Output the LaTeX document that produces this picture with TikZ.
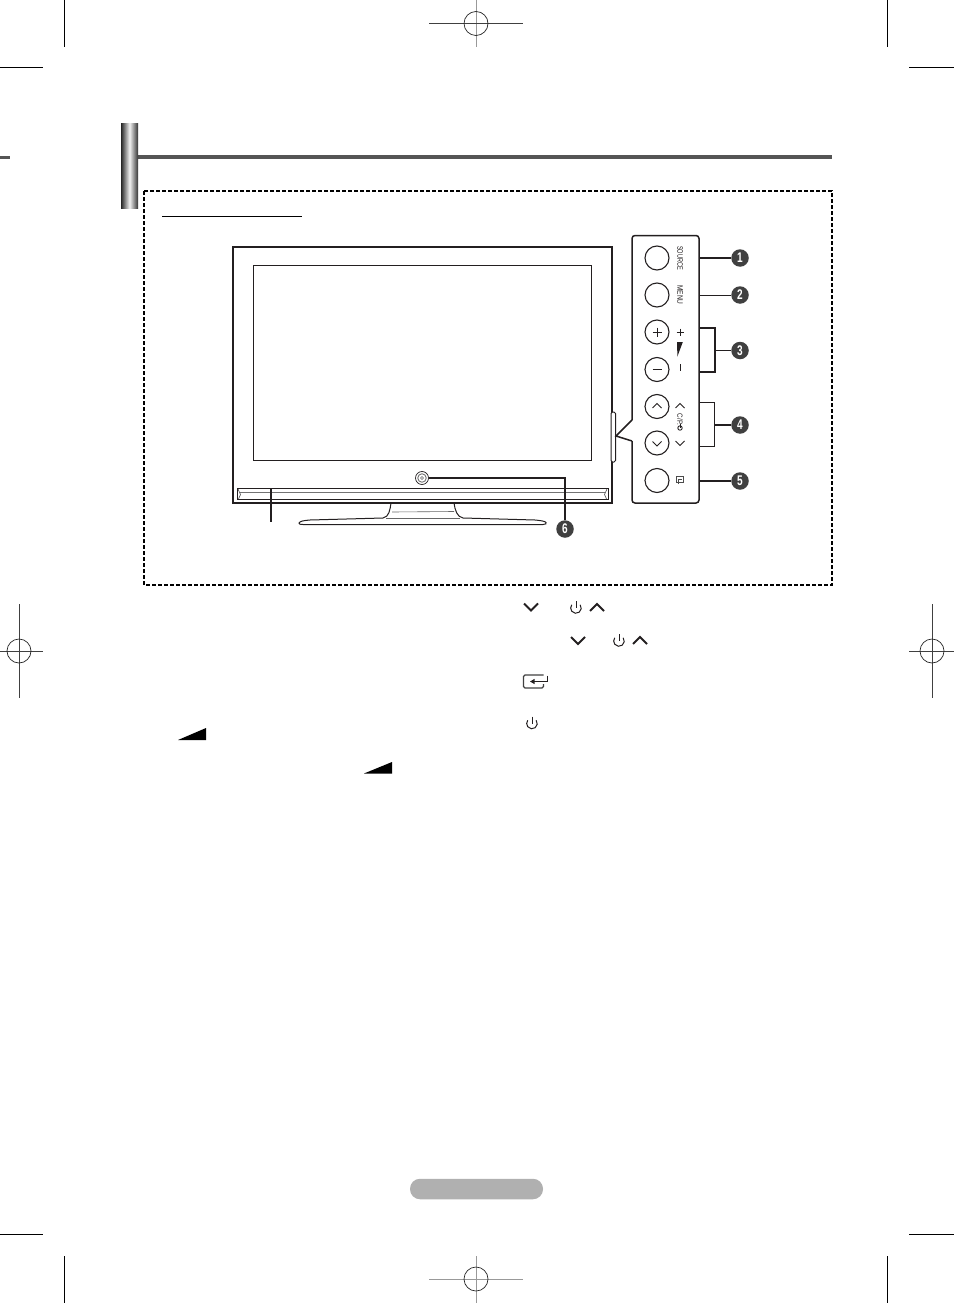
\documentclass[tikz,border=0pt]{standalone}
\usepackage{fontspec}
\setmainfont{Liberation Sans}
\definecolor{barcol}{HTML}{555555}
\definecolor{badgecol}{HTML}{404040}
\definecolor{pillcol}{HTML}{B0B0B0}
\definecolor{inkcol}{HTML}{231F20}
\tikzset{
  crop/.style={line width=1pt,black},
  regdark/.style={line width=.8pt,color=black!75},
  reggray/.style={line width=.9pt,color=black!40},
  regring/.style={circle,draw=black!85,line width=.7pt,minimum size=24pt,inner sep=0pt},
  btn/.style={circle,draw=inkcol,line width=1.1pt,minimum size=24pt,inner sep=0pt},
  badge/.style={circle,fill=badgecol,minimum size=17.5pt,inner sep=0pt,text=white,font=\fontsize{14}{14}\selectfont\bfseries},
  wire/.style={line width=1.5pt,color=inkcol},
  thinwire/.style={line width=1pt,color=inkcol},
  panellabel/.style={rotate=-90,inner sep=0pt,text=inkcol,font=\fontsize{8}{8}\selectfont},
  chev/.style={line width=2pt,color=inkcol,miter limit=4},
  smallchev/.style={line width=.8pt,color=inkcol},
  box/.style={rectangle,draw=inkcol,inner sep=0pt},
  pwr/.pic={
    \draw[line width=1pt,color=inkcol] (4.2,-3.2) arc[start angle=-37,end angle=217,radius=5.3];
    \draw[line width=1pt,color=inkcol] (0,-7) -- (0,0.2);
  },
  entericon/.pic={
    \draw[line width=1.2pt,color=black!75,rounded corners=1.5pt] (8.5,-6.5) -- (-11.5,-6.5) -- (-11.5,6.5) -- (8.5,6.5) -- (8.5,2.5);
    \draw[line width=.9pt,color=inkcol] (12,-6) -- (12,0) -- (-2,0);
    \fill[inkcol] (-5,0) -- (-.5,-2.6) -- (-.5,2.6) -- cycle;
  }
}
\begin{document}
\begin{tikzpicture}[x=1pt,y=-1pt]
\useasboundingbox (0,0) rectangle (954,1303);
% crop marks
\draw[crop] (64,0) -- (64,47);
\draw[crop] (0,68) -- (43,68);
\draw[crop] (887,0) -- (887,47);
\draw[crop] (909,68) -- (954,68);
\draw[crop] (0,1234) -- (43,1234);
\draw[crop] (64,1256) -- (64,1303);
\draw[crop] (909,1234) -- (954,1234);
\draw[crop] (887,1256) -- (887,1303);
% registration marks
\draw[reggray] (476,0) -- (476,47);
\draw[regdark] (429,23.5) -- (523,23.5);
\node[regring] (regT) at (476,23.5) {};
\draw[regdark] (19,604) -- (19,698);
\draw[regdark] (0,651) -- (43,651);
\node[regring] (regL) at (19,651) {};
\draw[regdark] (932,604) -- (932,698);
\draw[regdark] (909,651) -- (954,651);
\node[regring] (regR) at (932,651) {};
\draw[reggray] (476,1256) -- (476,1303);
\draw[reggray] (429,1279) -- (523,1279);
\node[regring] (regB) at (476,1279) {};
% header
\fill[barcol] (0,155.5) rectangle (10,159);
\fill[barcol] (138,155.2) rectangle (832,158.8);
\shade[left color=black!85,right color=black!80,middle color=black!5] (121,124) rectangle (138,208);
\draw[line width=2pt,black,dash pattern=on 4pt off 2pt] (144,191) rectangle (832,585);
\draw[line width=1pt,black] (162,216.5) -- (302,216.5);
% stand
\draw[line width=1pt,color=inkcol,fill=white]
  (391,503) .. controls (390,510) and (389,517) .. (383,518) -- (310,520) .. controls (304,520.5) and (300,521) .. (299,523)
  .. controls (299,524.2) and (300,524.5) .. (303,524.5) -- (543,524.5) .. controls (546,524.5) and (546.5,523.5) .. (546,522.5)
  .. controls (545,521) and (540,520.5) .. (535,520) -- (463,518) .. controls (457,517) and (455,510) .. (454,503);
\draw[line width=.6pt,color=black!60] (392,512) -- (454,511.5);
\draw[line width=.6pt,color=black!60] (386,518.5) -- (460,518.5);
% TV
\node[box,line width=2pt,minimum width=379pt,minimum height=256pt] (tv) at (422.5,375) {};
\node[box,line width=1pt,minimum width=338pt,minimum height=195pt] (screen) at (422,362.5) {};
\node[box,line width=1pt,minimum width=371pt,minimum height=11.5pt] (speaker) at (422.5,494) {};
\draw[line width=.6pt,color=black!55] (240,491.8) -- (605,491.8);
\draw[line width=.6pt,color=black!70] (238,489) -- (240.5,494.5) -- (238.5,499);
\draw[line width=.6pt,color=black!70] (607,489) -- (604.5,494.5) -- (606.5,499);
\node[circle,draw=inkcol,line width=.7pt,minimum size=13pt,inner sep=0pt] (power) at (422,478) {};
\node[circle,draw=black!55,line width=.9pt,minimum size=8.5pt,inner sep=0pt] (powerin) at (422,478) {};
\node[circle,draw=black!60,line width=.5pt,minimum size=3pt,inner sep=0pt] (powerdot) at (422,478) {};
% side bar
\draw[line width=1pt,color=inkcol,fill=white,rounded corners=1.5pt] (611,412) rectangle (615.5,462);
% panel
\draw[line width=1.5pt,color=inkcol,rounded corners=3pt] (632,420) -- (632,235.5) -- (699,235.5) -- (699,503) -- (632,503) -- (632,441);
\draw[line width=1.5pt,color=inkcol] (632,441) -- (616,436) -- (632,420);
% buttons
\node[btn] (s) at (657,258) {};
\node[btn] (m) at (657,295) {};
\node[btn] (vp) at (657,332) {};
\node[btn] (vm) at (657,369.5) {};
\node[btn] (cu) at (657,406.5) {};
\node[btn] (cd) at (657,443) {};
\node[btn] (inp) at (657,480.5) {};
\draw[line width=.9pt,color=inkcol] (652.5,332) -- (661.5,332) (657,327.5) -- (657,336.5);
\draw[line width=.9pt,color=inkcol] (652.5,369.5) -- (661.5,369.5);
\draw[smallchev] (652.5,408) -- (657,403.5) -- (661.5,408);
\draw[smallchev] (652.5,441.5) -- (657,446) -- (661.5,441.5);
% panel labels
\node[panellabel] (tS) at (680,258) {\scalebox{.7}[1]{SOURCE}};
\node[panellabel] (tM) at (680,295) {\scalebox{.82}[1]{MENU}};
\draw[line width=.8pt,color=inkcol] (676.5,332) -- (683.5,332) (680,328.5) -- (680,335.5);
\fill[inkcol] (677,342) -- (682.8,342) -- (677.4,356.5) -- cycle;
\draw[line width=.9pt,color=inkcol] (680,364) -- (680,371);
\draw[smallchev] (675.5,408) -- (680,403.5) -- (684.5,408);
\draw[smallchev] (675.5,441) -- (680,445.5) -- (684.5,441);
\node[panellabel,font=\fontsize{7.5}{7.5}\selectfont] (tC) at (680,419.5) {\scalebox{.85}[1]{C/P.}};
\draw[line width=.9pt,color=inkcol] (680,428) circle[radius=2.2];
\draw[line width=.9pt,color=inkcol] (680,424.2) -- (680,427.5);
\draw[line width=.7pt,color=black!70] (683,476) rectangle (676.5,482);
\draw[line width=.7pt,color=black!70] (678,484) -- (678,479.5) -- (682,479.5);
% badges
\node[badge] (b1) at (740,258) {\scalebox{.72}[1]{1}};
\node[badge] (b2) at (740,295) {\scalebox{.72}[1]{2}};
\node[badge] (b3) at (740,350.5) {\scalebox{.72}[1]{3}};
\node[badge] (b4) at (740,425) {\scalebox{.72}[1]{4}};
\node[badge] (b5) at (740,481) {\scalebox{.72}[1]{5}};
\node[badge] (b6) at (565,529) {\scalebox{.72}[1]{6}};
% connectors
\coordinate (e1) at (699,258);
\coordinate (e2) at (699,295);
\coordinate (e5) at (699,481);
\coordinate (j3t) at (700,328);
\coordinate (j3b) at (700,372);
\coordinate (j3c) at (715,350.5);
\coordinate (j4t) at (700,402);
\coordinate (j4b) at (700,446);
\coordinate (j4c) at (714.5,425);
\coordinate (corner6) at (565,478);
\coordinate (spT) at (271,488.5);
\coordinate (spB) at (271,522);
\draw[wire] (e1) -- (b1);
\draw[thinwire] (e2) -- (b2);
\draw[wire] (j3t) -| (j3c) |- (j3b);
\draw[wire] (j3c) -- (b3);
\draw[thinwire] (j4t) -| (j4c) |- (j4b);
\draw[wire] (j4c) -- (b4);
\draw[wire] (e5) -- (b5);
\draw[wire] (power) -- (corner6) -- (b6);
\draw[thinwire,line width=1.2pt] (spT) -- (spB);
% text-line icons
\draw[chev] (524,603.5) -- (531,610.5) -- (538,603.5);
\pic at (576,608) {pwr};
\draw[chev] (590,611) -- (597,604) -- (604,611);
\draw[chev] (571,637) -- (578,644) -- (585,637);
\pic at (619,641) {pwr};
\draw[chev] (633,644) -- (640,637) -- (647,644);
\pic at (535,681.5) {entericon};
\pic at (532,723.5) {pwr};
\fill[black] (178,740) -- (206,728) -- (206,740) -- cycle;
\fill[black] (364,773.5) -- (392,762) -- (392,773.5) -- cycle;
% page pill
\node[rectangle,fill=pillcol,rounded corners=10pt,minimum width=133pt,minimum height=20.5pt,inner sep=0pt] (pill) at (476.5,1189) {};
\end{tikzpicture}
\end{document}
